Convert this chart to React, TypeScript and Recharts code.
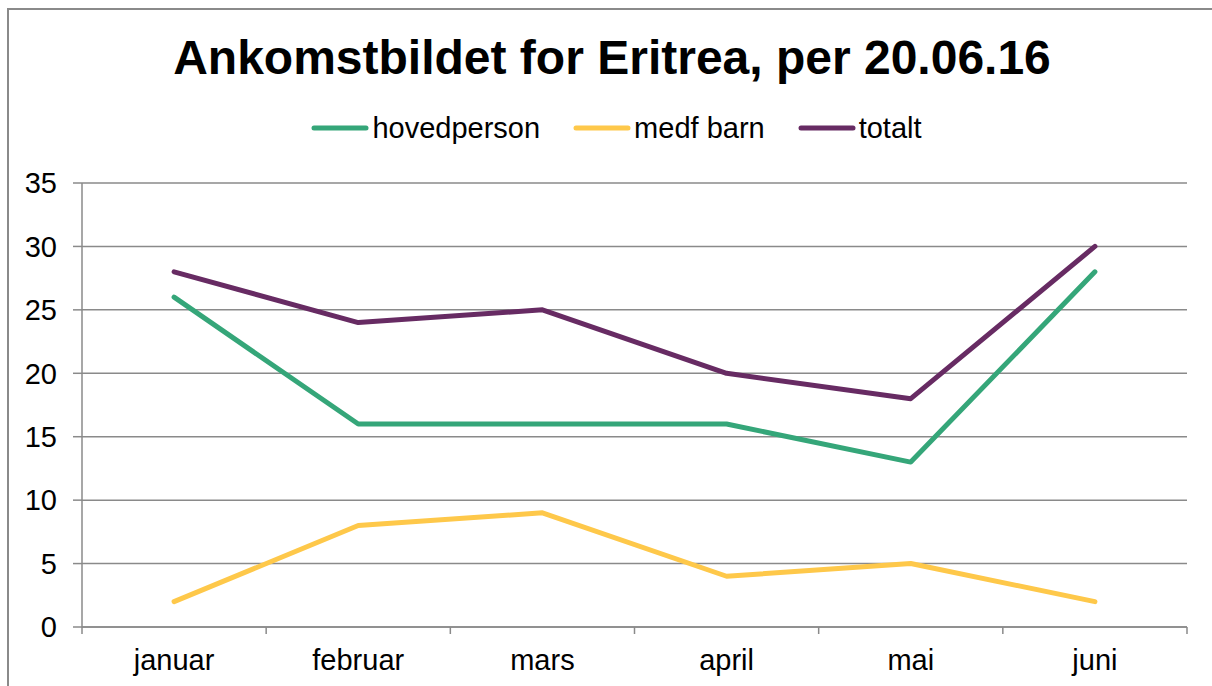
import { LineChart, Line, XAxis, YAxis, CartesianGrid, Legend } from 'recharts'

const months = ['januar', 'februar', 'mars', 'april', 'mai', 'juni']
const hovedperson = [26, 16, 16, 16, 13, 28]
const medfBarn = [2, 8, 9, 4, 5, 2]
const totalt = [28, 24, 25, 20, 18, 30]
const yTicks = [0, 5, 10, 15, 20, 25, 30, 35]

const FONT = '"Liberation Sans", Arial, sans-serif'
const GRID = '#8a8a8a'

const series = [
  { key: 'hovedperson', name: 'hovedperson', color: '#35a679' },
  { key: 'medfBarn', name: 'medf barn', color: '#fec84a' },
  { key: 'totalt', name: 'totalt', color: '#672b63' },
]

// x is the centre of each category band on a 0..6 numeric axis
const data = months.map((m, i) => ({
  x: i + 0.5,
  month: m,
  hovedperson: hovedperson[i],
  medfBarn: medfBarn[i],
  totalt: totalt[i],
}))
const bandEdges = months.map((_, i) => i).concat(months.length)
const bandCentres = data.map((d) => d.x)

function LegendRow() {
  return (
    <div
      style={{
        display: 'flex',
        justifyContent: 'center',
        alignItems: 'center',
        fontFamily: FONT,
        fontSize: 29,
        lineHeight: '34px',
        color: '#000',
        paddingLeft: 12,
      }}
    >
      {series.map((s, i) => (
        <div
          key={s.key}
          style={{ display: 'flex', alignItems: 'center', marginLeft: i === 0 ? 0 : 33 }}
        >
          <svg width={58} height={10} style={{ marginRight: 3 }}>
            <line x1={3} y1={5} x2={55} y2={5} stroke={s.color} strokeWidth={5} strokeLinecap="round" />
          </svg>
          <span>{s.name}</span>
        </div>
      ))}
    </div>
  )
}

export default function App() {
  return (
    <>
      <style>{'body{margin:0;overflow:hidden;background:#fff}'}</style>
      <div
        style={{
          position: 'absolute',
          left: 7,
          top: 8,
          width: 1205,
          height: 678,
          borderLeft: `2px solid ${GRID}`,
          borderTop: `2px solid ${GRID}`,
          boxSizing: 'border-box',
        }}
      >
        <div
          style={{
            position: 'absolute',
            left: 0,
            top: 24,
            width: 1206,
            textAlign: 'center',
            fontFamily: FONT,
            fontWeight: 'bold',
            fontSize: 48,
            lineHeight: '48px',
            color: '#000',
            zIndex: 2,
          }}
        >
          Ankomstbildet for Eritrea, per 20.06.16
        </div>
        <LineChart
          width={1203}
          height={676}
          data={data}
          margin={{ top: 173, right: 25, bottom: 0, left: 0 }}
        >
          <CartesianGrid
            xAxisId="band"
            vertical={false}
            stroke={GRID}
            strokeWidth={1.5}
          />
          <XAxis
            xAxisId="band"
            dataKey="x"
            type="number"
            domain={[0, months.length]}
            ticks={bandEdges}
            tickFormatter={() => ''}
            tickSize={7}
            height={1}
            axisLine={{ stroke: GRID, strokeWidth: 1.5 }}
            tickLine={{ stroke: GRID, strokeWidth: 1.5 }}
          />
          <XAxis
            xAxisId="label"
            dataKey="x"
            type="number"
            domain={[0, months.length]}
            ticks={bandCentres}
            tickFormatter={(v: number) => months[Math.floor(v)]}
            axisLine={false}
            tickLine={false}
            tickSize={0}
            tickMargin={21}
            height={58}
            tick={{ fill: '#000', fontSize: 29, fontFamily: FONT }}
          />
          <YAxis
            domain={[0, 35]}
            ticks={yTicks}
            width={73}
            tickSize={9}
            tickMargin={16}
            axisLine={{ stroke: GRID, strokeWidth: 1.5 }}
            tickLine={{ stroke: GRID, strokeWidth: 1.5 }}
            tick={{ fill: '#000', fontSize: 29, fontFamily: FONT }}
          />
          <Legend
            verticalAlign="middle"
            align="center"
            layout="horizontal"
            wrapperStyle={{ position: 'absolute', top: 101, left: 0, width: 1203 }}
            content={() => <LegendRow />}
          />
          {series.map((s) => (
            <Line
              key={s.key}
              xAxisId="band"
              type="linear"
              dataKey={s.key}
              name={s.name}
              stroke={s.color}
              strokeWidth={5}
              strokeLinecap="round"
              strokeLinejoin="round"
              dot={false}
              activeDot={false}
              isAnimationActive={false}
            />
          ))}
        </LineChart>
      </div>
    </>
  )
}
